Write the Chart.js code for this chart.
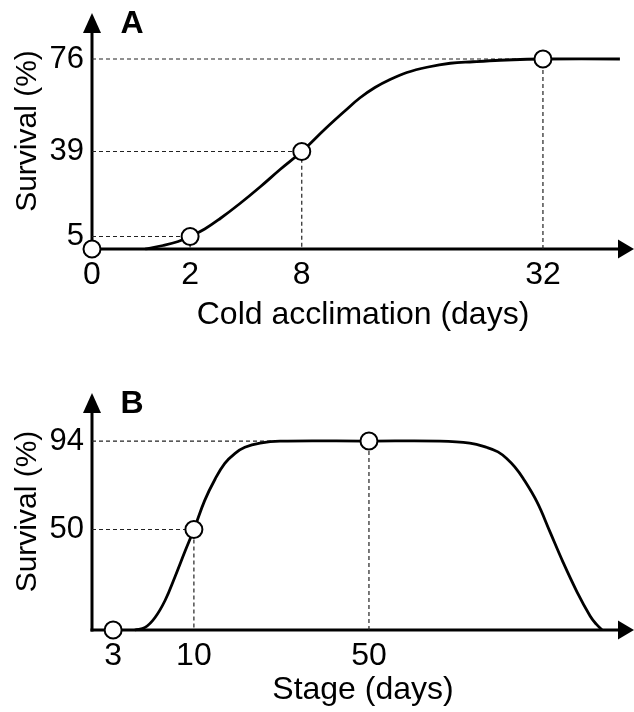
<!DOCTYPE html>
<html><head><meta charset="utf-8">
<script src="https://cdn.jsdelivr.net/npm/chart.js@4"></script>
<style>
html,body{margin:0;padding:0;background:#fff;}
canvas{position:absolute;left:0;}
#cA{top:0;}
#cB{top:345px;}
</style></head><body>
<canvas id="cA" width="634" height="345"></canvas>
<canvas id="cB" width="634" height="367"></canvas>
<script>
// ---------- Panel A : cold acclimation ----------
const aTickPos    = [0, 18.1, 38.7, 83.2];          // schematic axis positions
const aTickLabels = ['0', '2', '8', '32'];           // days
const aYTicks     = [5, 39, 76];
const aMarkerX    = [0, 18.1, 38.7, 83.2];
const aMarkerY    = [0, 5, 39, 76];
const aCurveX = [9.8, 13.1, 15.9, 18.1, 20.8, 23.6, 27.3, 31.0, 34.7, 38.7, 43.0, 46.7, 49.4, 52.2, 55.0, 58.1, 61.8, 66.1, 70.3, 75.3, 80.3, 83.2, 97.4];
const aCurveY = [0, 1.4, 3.0, 5, 8.0, 12.1, 18.2, 24.8, 31.8, 39, 48.0, 55.3, 60.4, 64.6, 67.8, 70.6, 72.7, 74.3, 74.9, 75.5, 75.9, 76, 76];

// ---------- Panel B : stage ----------
const bTickPos    = [3.9, 18.8, 51.1];
const bTickLabels = ['3', '10', '50'];
const bYTicks     = [50, 94];
const bMarkerX    = [3.9, 18.8, 51.1];
const bMarkerY    = [0, 50, 94];
const bCurveX = [7.9, 9.8, 11.6, 13.5, 15.3, 17.2, 18.8, 20.8, 22.7, 24.5, 26.4, 28.2, 31.0, 34.7, 51.1, 64.2, 69.7, 72.9, 74.9, 76.6, 78.0, 79.5, 82.1, 84.5, 86.9, 89.5, 91.9, 93.0, 94.1];
const bCurveY = [0, 1.3, 6.1, 14.8, 26.4, 39.4, 50, 64.5, 75.0, 82.9, 87.9, 90.9, 93.0, 94, 94, 94, 93.0, 90.8, 88.6, 85.1, 81.1, 75.6, 63.7, 48.8, 33.8, 18.9, 7.0, 3.0, 0];

const FONT = '"Liberation Sans", Arial, sans-serif';

const axesPlugin = {
  id: 'axesArrows',
  beforeDatasetsDraw(chart, args, opts) {
    const {ctx, chartArea: a} = chart;
    ctx.save();
    ctx.strokeStyle = '#000'; ctx.fillStyle = '#000'; ctx.lineWidth = 3;
    ctx.beginPath(); ctx.moveTo(a.left, a.bottom + 1.5); ctx.lineTo(a.left, a.top + 16); ctx.stroke();
    ctx.beginPath(); ctx.moveTo(a.left - 1.5, a.bottom); ctx.lineTo(a.right - 12, a.bottom); ctx.stroke();
    ctx.beginPath(); ctx.moveTo(a.left, a.top); ctx.lineTo(a.left - 9, a.top + 20); ctx.lineTo(a.left + 9, a.top + 20); ctx.closePath(); ctx.fill();
    ctx.beginPath(); ctx.moveTo(a.right, a.bottom); ctx.lineTo(a.right - 16, a.bottom - 9.5); ctx.lineTo(a.right - 16, a.bottom + 9.5); ctx.closePath(); ctx.fill();
    ctx.font = 'bold 32px ' + FONT; ctx.textAlign = 'center'; ctx.textBaseline = 'middle';
    ctx.fillText(opts.letter, a.left + 40, a.top + opts.letterDy);
    ctx.restore();
  }
};

function guides(mx, my) {
  const sets = [];
  mx.forEach((x, i) => {
    const y = my[i];
    if (y <= 0) return;
    sets.push({
      type: 'line',
      data: [{x: 0, y: y}, {x: x, y: y}, {x: x, y: 0}],
      borderColor: '#222', borderWidth: 1.2, borderDash: [4, 3],
      pointRadius: 0, fill: false, tension: 0, clip: false
    });
  });
  return sets;
}

function makeChart(id, cfg) {
  const tickFont = {family: FONT, size: 32};
  return new Chart(document.getElementById(id), {
    type: 'line',
    data: {
      datasets: [
        {
          type: 'scatter',
          data: cfg.mx.map((x, i) => ({x: x, y: cfg.my[i]})),
          pointRadius: 8.5, pointHoverRadius: 8.5,
          pointBackgroundColor: '#fff', pointBorderColor: '#000', pointBorderWidth: 2,
          showLine: false, clip: false
        },
        {
          type: 'line',
          data: cfg.cx.map((x, i) => ({x: x, y: cfg.cy[i]})),
          borderColor: '#000', borderWidth: 2.8, pointRadius: 0,
          tension: 0.4, fill: false, clip: false
        },
        ...guides(cfg.mx, cfg.my)
      ]
    },
    options: {
      responsive: false, animation: false, devicePixelRatio: 1,
      layout: {autoPadding: false, padding: {top: cfg.padTop, left: 0, right: 0, bottom: 0}},
      plugins: {legend: {display: false}, tooltip: {enabled: false},
                axesArrows: {letter: cfg.letter, letterDy: cfg.letterDy}},
      scales: {
        x: {
          type: 'linear', min: 0, max: 100,
          grid: {display: false, drawTicks: false}, border: {display: false},
          afterBuildTicks: s => { s.ticks = cfg.tickPos.map(v => ({value: v})); },
          afterFit: s => { s.height = cfg.xHeight; s.paddingLeft = 0; s.paddingRight = 0; },
          ticks: {autoSkip: false, maxRotation: 0, padding: 7, color: '#000', font: tickFont,
                  callback: v => cfg.tickLabels[cfg.tickPos.indexOf(v)]},
          title: {display: true, text: cfg.xTitle, color: '#000', font: {family: FONT, size: 32},
                  padding: {top: 0, bottom: cfg.titlePad}}
        },
        y: {
          type: 'linear', min: 0, max: cfg.yMax,
          grid: {display: false, drawTicks: false}, border: {display: false},
          afterBuildTicks: s => { s.ticks = cfg.yTicks.map(v => ({value: v})); },
          afterFit: s => { s.width = 92; s.paddingTop = 0; s.paddingBottom = 0; },
          ticks: {autoSkip: false, padding: 8, color: '#000', font: {family: FONT, size: 31}},
          title: {display: true, text: 'Survival (%)', color: '#000', font: {family: FONT, size: 30},
                  padding: {top: 10, bottom: 0}}
        }
      }
    },
    plugins: [axesPlugin]
  });
}

makeChart('cA', {
  mx: aMarkerX, my: aMarkerY, cx: aCurveX, cy: aCurveY,
  tickPos: aTickPos, tickLabels: aTickLabels, yTicks: aYTicks,
  yMax: 94.4, padTop: 13, xHeight: 96, titlePad: 11,
  xTitle: 'Cold acclimation (days)', letter: 'A', letterDy: 11
});
makeChart('cB', {
  mx: bMarkerX, my: bMarkerY, cx: bCurveX, cy: bCurveY,
  tickPos: bTickPos, tickLabels: bTickLabels, yTicks: bYTicks,
  yMax: 117.9, padTop: 48, xHeight: 82, titlePad: 3,
  xTitle: 'Stage (days)', letter: 'B', letterDy: 11
});
</script>
</body></html>
